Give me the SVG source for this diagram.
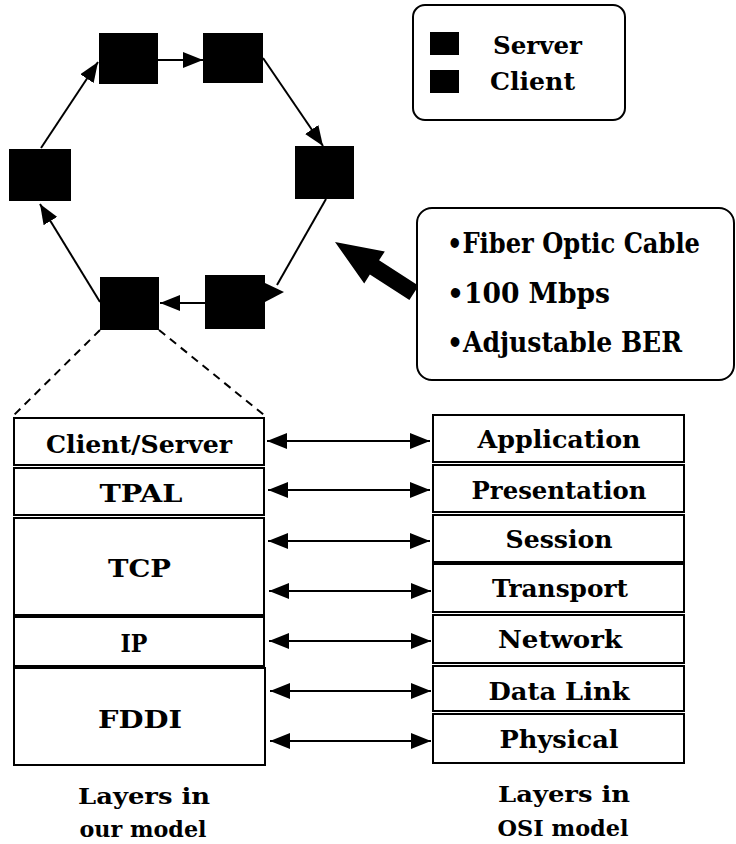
<svg xmlns="http://www.w3.org/2000/svg" width="736" height="844" viewBox="0 0 736 844">
<style>
  .node { fill: #000; }
  .box { fill: #fff; stroke: #000; stroke-width: 2; }
  text { font-family: "DejaVu Serif", "Liberation Serif", serif; font-weight: bold; font-stretch: condensed; fill: #000; }
  .lbl { font-size: 25px; text-anchor: middle; }
  .leg { font-size: 24px; }
  .info { font-size: 28px; }
  .cap { font-size: 23px; text-anchor: middle; }
  .conn { stroke: #000; stroke-width: 2; fill: none; }
  .dash { stroke: #000; stroke-width: 2; fill: none; stroke-dasharray: 8 6; }
</style>
<defs>
  <marker id="ah" markerUnits="userSpaceOnUse" markerWidth="20" markerHeight="16" refX="20" refY="8" orient="auto-start-reverse">
    <path d="M0,0 L20,8 L0,16 z" fill="#000"/>
  </marker>
</defs>

<g id="connectors">
  <!-- ring -->
  <line class="conn" x1="158" y1="60" x2="203" y2="60" marker-end="url(#ah)"/>
  <line class="conn" x1="263" y1="58" x2="323" y2="146" marker-end="url(#ah)"/>
  <line class="conn" x1="326" y1="199" x2="277" y2="285"/>
  <polygon points="265,283 284,292 265,302" fill="#000"/>
  <line class="conn" x1="205" y1="303" x2="160" y2="303" marker-end="url(#ah)"/>
  <line class="conn" x1="100" y1="302" x2="40" y2="204" marker-end="url(#ah)"/>
  <line class="conn" x1="41" y1="148" x2="98" y2="62" marker-end="url(#ah)"/>
  <!-- zoom dashed lines -->
  <line class="dash" x1="100" y1="330" x2="14" y2="415"/>
  <line class="dash" x1="159" y1="330" x2="264" y2="415"/>
  <!-- big arrow -->
  <polygon points="335,242 384.8,251.4 379.1,260.3 418.6,285.7 409.4,299.9 369.9,274.5 364.2,283.4" fill="#000"/>
  <!-- layer mapping arrows -->
  <line class="conn" x1="267" y1="441" x2="430" y2="441" marker-start="url(#ah)" marker-end="url(#ah)"/>
  <line class="conn" x1="268" y1="490" x2="430" y2="490" marker-start="url(#ah)" marker-end="url(#ah)"/>
  <line class="conn" x1="268" y1="541" x2="430" y2="541" marker-start="url(#ah)" marker-end="url(#ah)"/>
  <line class="conn" x1="269" y1="591" x2="431" y2="591" marker-start="url(#ah)" marker-end="url(#ah)"/>
  <line class="conn" x1="269" y1="641" x2="431" y2="641" marker-start="url(#ah)" marker-end="url(#ah)"/>
  <line class="conn" x1="270" y1="691" x2="431" y2="691" marker-start="url(#ah)" marker-end="url(#ah)"/>
  <line class="conn" x1="270" y1="741" x2="431" y2="741" marker-start="url(#ah)" marker-end="url(#ah)"/>
</g>

<!-- ring nodes -->
<g id="ring-n1"><rect class="node" x="99" y="33" width="59" height="51"/></g>
<g id="ring-n2"><rect class="node" x="203" y="33" width="60" height="50"/></g>
<g id="ring-n3"><rect class="node" x="295" y="146" width="59" height="53"/></g>
<g id="ring-n4"><rect class="node" x="205" y="275" width="60" height="54"/></g>
<g id="ring-n5"><rect class="node" x="100" y="277" width="59" height="53"/></g>
<g id="ring-n6"><rect class="node" x="9" y="149" width="62" height="52"/></g>

<!-- legend -->
<g id="legend">
  <rect class="box" x="413" y="5" width="212" height="115" rx="12"/>
  <rect class="node" x="430" y="32" width="29" height="23"/>
  <rect class="node" x="430" y="70" width="29" height="23"/>
  <text class="leg" x="493" y="54" textLength="89" lengthAdjust="spacingAndGlyphs">Server</text>
  <text class="leg" x="490" y="90" textLength="85" lengthAdjust="spacingAndGlyphs">Client</text>
</g>

<!-- info box -->
<g id="info">
  <rect class="box" x="417" y="208" width="317" height="172" rx="15"/>
  <text class="info" x="447" y="253" textLength="253" lengthAdjust="spacingAndGlyphs">•Fiber Optic Cable</text>
  <text class="info" x="447" y="303" textLength="163" lengthAdjust="spacingAndGlyphs">•100 Mbps</text>
  <text class="info" x="447" y="352" textLength="235" lengthAdjust="spacingAndGlyphs">•Adjustable BER</text>
</g>

<!-- our model stack -->
<g id="our-client-server"><rect class="box" x="14" y="418" width="250" height="47"/><text class="lbl" x="139" y="453" textLength="186" lengthAdjust="spacingAndGlyphs">Client/Server</text></g>
<g id="our-tpal"><rect class="box" x="14" y="468" width="250" height="47"/><text class="lbl" x="141" y="502" textLength="83" lengthAdjust="spacingAndGlyphs">TPAL</text></g>
<g id="our-tcp"><rect class="box" x="14" y="518" width="250" height="97"/><text class="lbl" x="139.5" y="577" textLength="63" lengthAdjust="spacingAndGlyphs">TCP</text></g>
<g id="our-ip"><rect class="box" x="14" y="617" width="250" height="49"/><text class="lbl" x="134" y="652" textLength="27" lengthAdjust="spacingAndGlyphs">IP</text></g>
<g id="our-fddi"><rect class="box" x="14" y="668" width="251" height="97"/><text class="lbl" x="140" y="728" textLength="84" lengthAdjust="spacingAndGlyphs">FDDI</text></g>

<!-- OSI stack -->
<g id="osi-application"><rect class="box" x="433" y="415" width="251" height="47"/><text class="lbl" x="559" y="448" textLength="163" lengthAdjust="spacingAndGlyphs">Application</text></g>
<g id="osi-presentation"><rect class="box" x="433" y="465" width="251" height="47"/><text class="lbl" x="559" y="499" textLength="175" lengthAdjust="spacingAndGlyphs">Presentation</text></g>
<g id="osi-session"><rect class="box" x="433" y="515" width="251" height="47"/><text class="lbl" x="559" y="548" textLength="107" lengthAdjust="spacingAndGlyphs">Session</text></g>
<g id="osi-transport"><rect class="box" x="433" y="564" width="251" height="48"/><text class="lbl" x="560" y="597" textLength="136" lengthAdjust="spacingAndGlyphs">Transport</text></g>
<g id="osi-network"><rect class="box" x="433" y="615" width="251" height="48"/><text class="lbl" x="560" y="648" textLength="124" lengthAdjust="spacingAndGlyphs">Network</text></g>
<g id="osi-datalink"><rect class="box" x="433" y="666" width="251" height="45"/><text class="lbl" x="559" y="700" textLength="141" lengthAdjust="spacingAndGlyphs">Data Link</text></g>
<g id="osi-physical"><rect class="box" x="433" y="714" width="251" height="49"/><text class="lbl" x="559" y="748" textLength="119" lengthAdjust="spacingAndGlyphs">Physical</text></g>

<!-- captions -->
<g id="caption-our">
  <text class="cap" x="144" y="804" textLength="132" lengthAdjust="spacingAndGlyphs">Layers in</text>
  <text class="cap" x="143" y="837" textLength="127" lengthAdjust="spacingAndGlyphs">our model</text>
</g>
<g id="caption-osi">
  <text class="cap" x="564" y="802" textLength="132" lengthAdjust="spacingAndGlyphs">Layers in</text>
  <text class="cap" x="563" y="836" textLength="131" lengthAdjust="spacingAndGlyphs">OSI model</text>
</g>
</svg>
